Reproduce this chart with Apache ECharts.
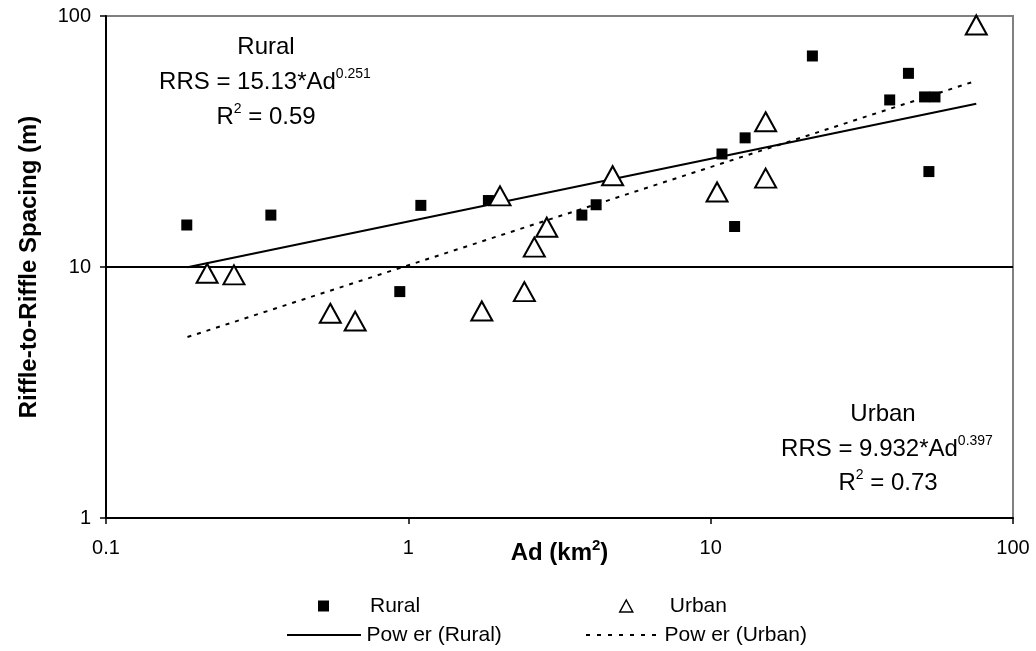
<!DOCTYPE html>
<html>
<head>
<meta charset="utf-8">
<script src="https://cdn.jsdelivr.net/npm/echarts@6/dist/echarts.min.js"></script>
<style>
  html, body { margin: 0; padding: 0; background: #fff; }
  #main { width: 1036px; height: 651px; }
</style>
</head>
<body>
<div id="main"></div>
<script>
// 数据
var ruralAd = [0.185, 0.351, 1.10, 1.84, 0.937, 3.75, 4.18, 10.9, 13.0, 12.0, 21.7, 45.1, 39.1, 51.0, 55.2, 52.7];
var ruralRRS = [14.7, 16.1, 17.6, 18.4, 7.98, 16.1, 17.7, 28.2, 32.7, 14.5, 69.3, 59.1, 46.3, 47.6, 47.6, 24.0];

var urbanAd = [0.216, 0.265, 0.552, 0.667, 1.75, 2.01, 2.42, 2.61, 2.87, 4.74, 10.5, 15.2, 15.2, 75.6];
var urbanRRS = [9.44, 9.3, 6.54, 6.09, 6.68, 19.2, 7.98, 12.0, 14.4, 23.1, 19.9, 37.9, 22.6, 92.1];

// 趋势线端点
var fitAd = [0.186, 75.6];
var ruralFit = [9.98, 44.7];
var urbanFit = [5.26, 55.2];

var xTicks = [0.1, 1, 10, 100];
var yTicks = [1, 10, 100];

function pairs(xs, ys) {
  var out = [];
  for (var i = 0; i < xs.length; i++) out.push([xs[i], ys[i]]);
  return out;
}

// 图例里的虚线图标
function dashIcon(w, dash, gap) {
  var p = "path://";
  for (var x = 0; x < w; x += dash + gap) {
    p += "M" + x + ",0h" + dash + "v2h-" + dash + "z";
  }
  return p;
}

var chart = echarts.init(document.getElementById("main"), null, { renderer: "canvas" });

var font = "Liberation Sans, Arial, sans-serif";

function supText(x, y, main, sup, tail) {
  var txt = "{m|" + main + "}{s|" + sup + "}" + (tail ? "{m|" + tail + "}" : "");
  return {
    type: "text", x: x, y: y,
    style: {
      text: txt, align: "center", verticalAlign: "middle",
      rich: {
        m: { fontSize: 24, fontFamily: font, fill: "#000", lineHeight: 30 },
        s: { fontSize: 14, fontFamily: font, fill: "#000", lineHeight: 30, verticalAlign: "top" },
      },
    },
  };
}

var option = {
  backgroundColor: "#fff",
  animation: false,
  textStyle: { fontFamily: font, color: "#000" },
  grid: {
    left: 106,
    right: 23,
    top: 16,
    bottom: 133,
    show: true,
    borderColor: "#808080",
    borderWidth: 2,
  },
  xAxis: {
    type: "log",
    logBase: 10,
    min: xTicks[0],
    max: xTicks[xTicks.length - 1],
    splitNumber: 3,
    axisLine: { show: true, lineStyle: { color: "#000", width: 2 } },
    axisTick: { show: true, inside: false, length: 6, lineStyle: { color: "#000", width: 1.5 } },
    axisLabel: {
      margin: 20,
      fontSize: 20,
      color: "#000",
      fontFamily: font,
      formatter: function (v) { return String(+v.toPrecision(3)); },
    },
    splitLine: { show: false },
    minorTick: { show: false },
    name: "{b|Ad (km}{s|2}{b|)}",
    nameLocation: "middle",
    nameGap: 20,
    nameMoveOverlap: false,
    nameTextStyle: {
      rich: {
        b: { fontSize: 24, fontWeight: "bold", fontFamily: font, color: "#000", lineHeight: 30 },
        s: { fontSize: 15, fontWeight: "bold", fontFamily: font, color: "#000", verticalAlign: "top", lineHeight: 30 },
      },
    },
  },
  yAxis: {
    type: "log",
    logBase: 10,
    min: yTicks[0],
    max: yTicks[yTicks.length - 1],
    splitNumber: 2,
    axisLine: { show: true, lineStyle: { color: "#000", width: 2 } },
    axisTick: { show: true, inside: false, length: 6, lineStyle: { color: "#000", width: 1.5 } },
    axisLabel: { margin: 15, fontSize: 20, color: "#000", fontFamily: font },
    splitLine: {
      show: true,
      showMinLine: false,
      showMaxLine: false,
      lineStyle: { color: "#000", width: 2, type: "solid" },
    },
    minorTick: { show: false },
    name: "Riffle-to-Riffle Spacing (m)",
    nameLocation: "middle",
    nameRotate: 90,
    nameGap: 65,
    nameMoveOverlap: false,
    nameTextStyle: { fontSize: 24, fontWeight: "bold", color: "#000", fontFamily: font },
  },
  // 图例（四个分开放）
  legend: [
    {
      data: [{ name: "Rural", icon: "rect" }], left: 318, top: 594, padding: 0,
      itemWidth: 11, itemHeight: 11,
      textStyle: { fontSize: 21, fontFamily: font, color: "#000", padding: [0, 0, 0, 36], lineHeight: 24 },
    },
    {
      data: [{ name: "Urban", icon: "triangle" }], left: 619, top: 594, padding: 0,
      itemWidth: 13, itemHeight: 12,
      itemStyle: { color: "#fff", borderColor: "#000", borderWidth: 1.5 },
      textStyle: { fontSize: 21, fontFamily: font, color: "#000", padding: [0, 0, 0, 32], lineHeight: 24 },
    },
    {
      data: [{ name: "Pow er (Rural)", icon: "path://M0,0h74v2h-74z" }], left: 287, top: 623, padding: 0,
      itemWidth: 75, itemHeight: 2,
      textStyle: { fontSize: 21, fontFamily: font, color: "#000", padding: [0, 0, 0, 0], lineHeight: 24 },
    },
    {
      data: [{ name: "Pow er (Urban)", icon: dashIcon(77, 4, 7) }], left: 586, top: 623, padding: 0,
      itemWidth: 77, itemHeight: 2,
      textStyle: { fontSize: 21, fontFamily: font, color: "#000", padding: [0, 0, 0, 0], lineHeight: 24 },
    },
  ],
  graphic: [
    { type: "text", x: 266, y: 47, style: { text: "Rural", font: "24px " + font, fill: "#000", align: "center", verticalAlign: "middle" } },
    supText(265, 82, "RRS = 15.13*Ad", "0.251"),
    supText(266, 117, "R", "2", " = 0.59"),
    { type: "text", x: 883, y: 414, style: { text: "Urban", font: "24px " + font, fill: "#000", align: "center", verticalAlign: "middle" } },
    supText(887, 449, "RRS = 9.932*Ad", "0.397"),
    supText(888, 483, "R", "2", " = 0.73"),
  ],
  series: [
    {
      name: "Pow er (Rural)",
      type: "line",
      data: pairs(fitAd, ruralFit),
      symbol: "none",
      lineStyle: { color: "#000", width: 2, type: "solid" },
      itemStyle: { color: "#000" },
      z: 3,
    },
    {
      name: "Pow er (Urban)",
      type: "line",
      data: pairs(fitAd, urbanFit),
      symbol: "none",
      lineStyle: { color: "#000", width: 2, type: [4, 6] },
      itemStyle: { color: "#000" },
      z: 3,
    },
    {
      name: "Rural",
      type: "scatter",
      data: pairs(ruralAd, ruralRRS),
      symbol: "rect",
      symbolSize: 11,
      itemStyle: { color: "#000", opacity: 1 },
      z: 4,
    },
    {
      name: "Urban",
      type: "scatter",
      data: pairs(urbanAd, urbanRRS),
      symbol: "triangle",
      symbolSize: [21, 19],
      itemStyle: { color: "#fff", borderColor: "#000", borderWidth: 2, opacity: 1 },
      z: 4,
    },
  ],
};

chart.setOption(option);
</script>
</body>
</html>
